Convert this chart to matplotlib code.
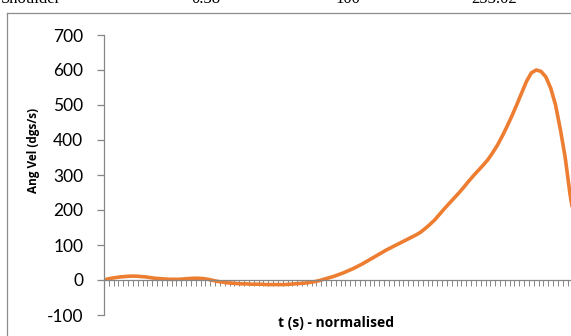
import numpy as np
import matplotlib
matplotlib.use("Agg")
import matplotlib.pyplot as plt
from matplotlib.lines import Line2D

# angular velocity per normalised time step (dgs/s)
ang_vel = [
    2, 5, 7, 9, 10, 11, 11, 10, 9, 7,
    5, 4, 3, 2, 2, 2, 3, 4, 5, 5,
    4, 2, -1, -4, -6, -8, -9, -10, -11, -11,
    -12, -12, -12, -13, -13, -13, -13, -13, -12, -11,
    -10, -9, -7, -5, -2, 2, 6, 10, 15, 20,
    26, 32, 39, 46, 54, 62, 70, 78, 86, 93,
    100, 107, 114, 121, 128, 136, 147, 159, 172, 188,
    204, 219, 234, 249, 265, 282, 298, 313, 328, 344,
    364, 386, 412, 440, 470, 502, 535, 568, 592, 600,
    596, 580, 548, 500, 430, 350, 245, 160, 110, 70,
]
y_ticks = [-100, 0, 100, 200, 300, 400, 500, 600, 700]
table_row = ["Shoulder", "0.38", "100", "253.02"]
table_x = [0.002, 0.336, 0.588, 0.825]

grey = "#868686"
orange = "#ED7D31"

fig = plt.figure(figsize=(5.71, 3.36), dpi=100)
ax = fig.add_axes([104 / 571, 21 / 336, 1 - 104 / 571, 280 / 336])

t = np.arange(len(ang_vel)) + 0.5
ax.plot(t, ang_vel, color=orange, lw=2.6, solid_capstyle="round")

ax.set_yticks(y_ticks)
ax.set_yticklabels([str(v) for v in y_ticks], fontname="Lato", fontsize=12.5)
ax.set_xticks(np.arange(1, len(ang_vel) + 1))
ax.set_xticklabels([])
# the plot area runs past the right edge of the page
ax.set_xlim(0, 96.7)
ax.set_ylim(-100, 700)

for s in ["top", "right"]:
    ax.spines[s].set_visible(False)
ax.spines["bottom"].set_position(("data", 0))
ax.spines["left"].set_color(grey)
ax.spines["bottom"].set_color(grey)
ax.spines["left"].set_linewidth(0.9)
ax.spines["bottom"].set_linewidth(0.9)
ax.tick_params(axis="y", direction="out", length=5, width=0.9, color=grey, pad=10)
ax.tick_params(axis="x", direction="out", length=4.5, width=0.7, color=grey)

fig.text(33 / 571, 1 - 150 / 336, "Ang Vel (dgs/s)", rotation=90, ha="center", va="center",
         fontname="Open Sans", fontweight="bold", fontsize=8.5)
fig.text(336 / 571, 1 - 323 / 336, "t (s) - normalised", ha="center", va="center",
         fontname="Open Sans", fontweight="bold", fontsize=10)

# page border and the tail of the table row above
fig.add_artist(Line2D([7 / 571, 1.0], [1 - 13 / 336, 1 - 13 / 336], color="#8c8c8c", lw=0.9))
fig.add_artist(Line2D([7 / 571, 7 / 571], [0, 1 - 13 / 336], color="#8c8c8c", lw=0.9))
for label, xpos in zip(table_row, table_x):
    fig.text(xpos, 1 - 3 / 336, label, ha="left", va="baseline",
             fontname="Liberation Serif", fontsize=12)

fig.savefig("out.png", dpi=100)
